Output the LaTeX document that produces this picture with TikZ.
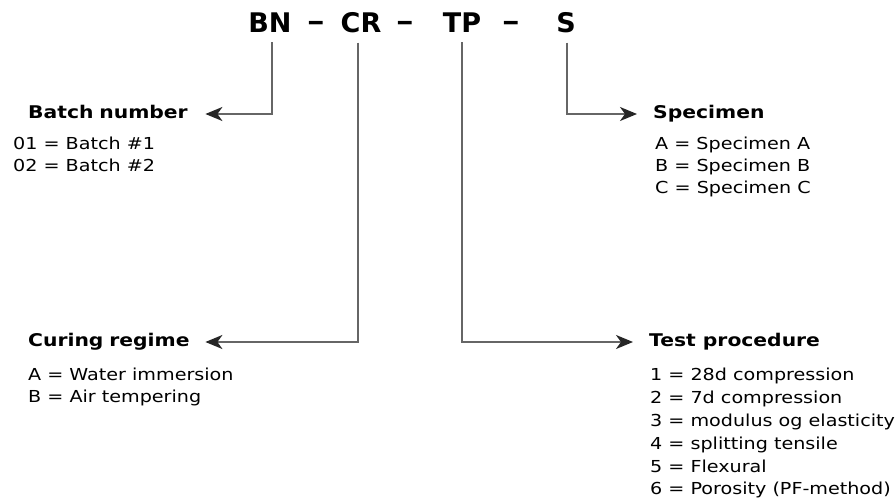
\documentclass[tikz,border=0pt]{standalone}
\usepackage{fontspec}
\setmainfont{DejaVu Sans}
\newfontfamily\widesans{DejaVu Sans}[FakeStretch=1.16]
\usetikzlibrary{arrows.meta}
\begin{document}
\begin{tikzpicture}[x=1pt,y=-1pt,
	code/.style={font=\fontsize{27}{27}\selectfont\bfseries,inner sep=0pt,anchor=base},
	head/.style={font=\widesans\fontsize{17.5}{20}\selectfont\bfseries,inner sep=0pt,text height=13pt,text depth=4pt,anchor=west},
	item/.style={font=\widesans\fontsize{16.5}{20}\selectfont,inner sep=0pt,anchor=base west},
	link/.style={draw=black!60,line width=2pt,shorten <=9pt,-{Stealth[length=17pt,width=14pt,inset=5pt,color=black!85]}}]
	\useasboundingbox (0,0) rectangle (895,503);
	% code line
	\node[code] (bn) at (270,33) {BN};
	\node[code] (d1) at (316,31) {\scalebox{1.3}[1]{--}};
	\node[code] (cr) at (361,33) {CR};
	\node[code] (d2) at (405,31) {\scalebox{1.3}[1]{--}};
	\node[code] (tp) at (462,33) {TP};
	\node[code] (d3) at (511,31) {\scalebox{1.3}[1]{--}};
	\node[code] (s) at (566,33) {S};
	% headings
	\node[head,text width=177pt,align=left] (batch) at (28,114) {Batch number};
	\node[head,text width=177pt,align=left] (curing) at (28,342) {Curing regime};
	\node[head] (spec) at (653,114) {Specimen};
	\node[head] (test) at (649,342) {Test procedure};
	% lists
	\foreach \t [count=\i] in {01 = Batch \#1, 02 = Batch \#2}
		\node[item] (b\i) at (13,127+22*\i) {\t};
	\foreach \t [count=\i] in {A = Specimen A, B = Specimen B, C = Specimen C}
		\node[item] (s\i) at (655,127+22*\i) {\t};
	\foreach \t [count=\i] in {A = Water immersion, B = Air tempering}
		\node[item] (c\i) at (28,357.5+22.5*\i) {\t};
	\foreach \t [count=\i] in {1 = 28d compression, 2 = 7d compression, 3 = modulus og elasticity,
		4 = splitting tensile, 5 = Flexural, 6 = Porosity (PF-method)}
		\node[item] (t\i) at (650,358+22.8*\i) {\t};
	% connectors
	\draw[link] (bn.south -| 272,0) |- (batch.east);
	\draw[link] (cr.south -| 358,0) |- (curing.east);
	\draw[link,shorten >=16pt] (tp.south) |- (test.west);
	\draw[link,shorten >=16pt] (s.south -| 567,0) |- (spec.west);
\end{tikzpicture}
\end{document}
